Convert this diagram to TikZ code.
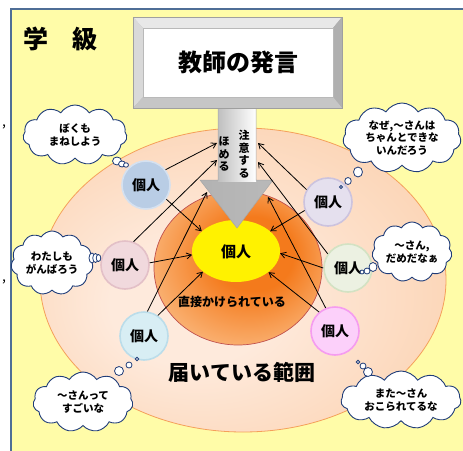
\documentclass[tikz,border=0pt]{standalone}
\usepackage{fontspec}
\newfontfamily\jp{Noto Sans CJK JP}
\usetikzlibrary{shapes.symbols,shapes.geometric,arrows.meta}
\definecolor{bgyellow}{HTML}{FFFCA8}
\definecolor{frameblue}{HTML}{4F6E96}
\definecolor{peach}{HTML}{FBCBA4}
\definecolor{peachlight}{HTML}{FEEADC}
\definecolor{peachedge}{HTML}{F5A05A}
\definecolor{orangedeep}{HTML}{F47A1C}
\definecolor{orangelight}{HTML}{FCC896}
\definecolor{orangeedge}{HTML}{C0504D}
\definecolor{cloudblue}{HTML}{1F3C78}
\definecolor{pAfill}{HTML}{B9CDE5}\definecolor{pAedge}{HTML}{D5E1F0}
\definecolor{pBfill}{HTML}{F1D9DD}\definecolor{pBedge}{HTML}{E3C0C7}
\definecolor{pCfill}{HTML}{D8EEF4}\definecolor{pCedge}{HTML}{BBDDEA}
\definecolor{pDfill}{HTML}{E5E0EE}\definecolor{pDedge}{HTML}{CCC3DE}
\definecolor{pEfill}{HTML}{ECF1E2}\definecolor{pEedge}{HTML}{D3E2C3}
\definecolor{pFfill}{HTML}{FCD0FA}\definecolor{pFedge}{HTML}{F59CF0}
\pgfdeclareradialshading{peachglow}{\pgfpoint{-8bp}{-5bp}}{color(0bp)=(peachlight); color(10bp)=(peachlight); color(40bp)=(peach); color(50bp)=(peach)}
\pgfdeclareradialshading{orangeglow}{\pgfpoint{6bp}{6bp}}{color(0bp)=(orangedeep); color(12bp)=(orangedeep); color(36bp)=(orangelight); color(50bp)=(orangelight)}
\tikzset{
  person/.style={circle, minimum size=48pt, inner sep=0pt, line width=1.6pt,
    font=\jp\bfseries\fontsize{14}{14}\selectfont},
  conn/.style={-{Straight Barb[length=5pt,width=6pt]}, line width=0.8pt, black},
  thought/.style={cloud, cloud puffs=11, cloud puff arc=115, cloud ignores aspect,
    draw=cloudblue, fill=white, line width=0.9pt, inner sep=0pt, align=center,
    font=\jp\bfseries\fontsize{10.5}{12.5}\selectfont},
  bubble/.style={ellipse, draw=cloudblue, fill=white, line width=0.8pt, inner sep=0pt},
  vtext/.style={align=center, inner sep=0pt, font=\jp\bfseries\fontsize{11}{12.5}\selectfont},
}
\begin{document}
\begin{tikzpicture}[x=1pt,y=-1pt]
\useasboundingbox (0,0) rectangle (463,450);
\fill[white] (0,0) rectangle (463,450);
% class frame
\fill[bgyellow] (11,9) rectangle (465,452);
\draw[frameblue, line width=1.5pt] (11,452) -- (11,9) -- (465,9);
\node[font=\jp\fontsize{14}{14}\selectfont, inner sep=0pt] (comma1) at (4,127) {,};
\node[font=\jp\fontsize{14}{14}\selectfont, inner sep=0pt] (comma2) at (4,282) {,};
\node[font=\jp\bfseries\fontsize{25}{25}\selectfont, inner sep=0pt] (gaku) at (36,39) {学};
\node[font=\jp\bfseries\fontsize{25}{25}\selectfont, inner sep=0pt] (kyu) at (85,39) {級};
% reach ellipse
\path[shading=peachglow] (243,280) ellipse [x radius=203, y radius=152];
\draw[peachedge, line width=0.8pt] (243,280) ellipse [x radius=203, y radius=152];
% direct circle
\path[shading=orangeglow] (238,268) ellipse [x radius=84, y radius=77];
\draw[orangeedge, line width=0.7pt] (238,268) ellipse [x radius=84, y radius=77];
% yellow centre
\node[ellipse, fill=yellow, minimum width=88pt, minimum height=62pt, inner sep=0pt] (yel) at (236,251) {};
% teacher arrow
\shade[left color=gray!60, middle color=gray!5, right color=gray!55]
  (200,180) -- (273,180) -- (237,228) -- cycle;
\shade[left color=gray!50, right color=white]
  (218,100) rectangle (256,181);
\draw[gray!70, line width=0.5pt]
  (218,100) -- (256,100) -- (256,180) -- (273,180) -- (237,228) -- (200,180) -- (218,180) -- cycle;
\node[font=\jp\bfseries\fontsize{15}{15}\selectfont, inner sep=0pt] (center) at (236,252) {個人};
\node[vtext] (homeru) at (224,154) {ほ\\め\\る};
\node[vtext] (chui) at (244,154) {注\\意\\す\\る};
% teacher box
\fill[gray!60] (133,17) rectangle (342,108);
\fill[gray!18] (133,17) -- (342,17) -- (333,28) -- (143,28) -- cycle;
\fill[gray!30] (133,17) -- (143,28) -- (143,97) -- (133,108) -- cycle;
\fill[gray!62] (342,17) -- (342,108) -- (333,97) -- (333,28) -- cycle;
\fill[gray!45] (133,108) -- (342,108) -- (333,97) -- (143,97) -- cycle;
\fill[white] (143,28) rectangle (333,97);
\draw[gray!75, line width=0.6pt] (133,17) rectangle (342,108);
\draw[gray!55, line width=0.4pt] (143,28) rectangle (333,97);
\node[font=\jp\bfseries\fontsize{24}{24}\selectfont, inner sep=0pt] (teacher) at (238,62) {教師の発言};
% labels
\node[font=\jp\bfseries\fontsize{12}{12}\selectfont, inner sep=0pt] (direct) at (232,302) {直接かけられている};
\node[font=\jp\bfseries\fontsize{21}{21}\selectfont, inner sep=0pt] (reach) at (242,372) {届いている範囲};
% persons
\node[person, fill=pAfill, draw=pAedge] (A) at (146,185) {個人};
\node[person, fill=pBfill, draw=pBedge] (B) at (125,265) {個人};
\node[person, fill=pCfill, draw=pCedge] (C) at (144,336) {個人};
\node[person, fill=pDfill, draw=pDedge] (D) at (328,202) {個人};
\node[person, fill=pEfill, draw=pEedge] (E) at (348,268) {個人};
\node[person, fill=pFfill, draw=pFedge] (F) at (335,331) {個人};
% targets on the arrow
\coordinate (sL1) at (217,143);
\coordinate (sL2) at (217,160);
\coordinate (sR1) at (258,143);
\coordinate (sR2) at (258,162);
\coordinate (hL) at (207,192);
\coordinate (hR) at (268,197);
% connectors
\draw[conn] (A.38) -- (sL1);
\draw[conn] (A.-35) -- (yel.150);
\draw[conn] (B.70) -- (sL2);
\draw[conn] (B.5) -- (yel.185);
\draw[conn] (C.82) -- (hL);
\draw[conn] (C.56) -- (yel.212);
\draw[conn] (D.150) -- (sR1);
\draw[conn] (D.200) -- (yel.30);
\draw[conn] (E.145) -- (sR2);
\draw[conn] (E.180) -- (yel.-3);
\draw[conn] (F.112) -- (hR);
\draw[conn] (F.130) -- (yel.-33);
% thought clouds
\node[thought, minimum width=104pt, minimum height=60pt] (c1) at (75,135) {ぼくも\\まねしよう};
\node[bubble, minimum width=9pt, minimum height=8pt] (c1a) at (117,161) {};
\node[bubble, minimum width=7pt, minimum height=6pt] (c1b) at (122,164) {};
\node[bubble, minimum width=5pt, minimum height=4.5pt] (c1c) at (126,165) {};
\node[thought, minimum width=118pt, minimum height=70pt] (c2) at (402,138) {なぜ,～さんは\\ちゃんとできな\\いんだろう};
\node[bubble, minimum width=9pt, minimum height=10pt] (c2a) at (358,172) {};
\node[bubble, minimum width=6.5pt, minimum height=7pt] (c2b) at (348,181) {};
\node[bubble, minimum width=3pt, minimum height=3pt] (c2c) at (341,187) {};
\node[thought, minimum width=82pt, minimum height=64pt] (c3) at (52,263) {わたしも\\がんばろう};
\node[bubble, minimum width=6pt, minimum height=10pt] (c3a) at (92,258) {};
\node[bubble, minimum width=5.5pt, minimum height=9pt] (c3b) at (95.5,258) {};
\node[bubble, minimum width=4.5pt, minimum height=7pt] (c3c) at (98.5,258) {};
\node[thought, minimum width=80pt, minimum height=60pt] (c4) at (412,252) {～さん,\\だめだなぁ};
\node[bubble, minimum width=8pt, minimum height=9pt] (c4a) at (373,267) {};
\node[bubble, minimum width=6pt, minimum height=6pt] (c4b) at (367,271) {};
\node[bubble, minimum width=4pt, minimum height=4pt] (c4c) at (362,272) {};
\node[thought, minimum width=100pt, minimum height=60pt] (c5) at (83,402) {～さんって\\すごいな};
\node[bubble, minimum width=9pt, minimum height=9pt] (c5a) at (119,371) {};
\node[bubble, minimum width=6pt, minimum height=6pt] (c5b) at (129,365) {};
\node[bubble, minimum width=3.5pt, minimum height=3.5pt] (c5c) at (137,359) {};
\node[thought, minimum width=120pt, minimum height=58pt] (c6) at (401,400) {また～さん\\おこられてるな};
\node[bubble, minimum width=9pt, minimum height=9pt] (c6a) at (368,372) {};
\node[bubble, minimum width=6pt, minimum height=6pt] (c6b) at (363,366) {};
\node[bubble, minimum width=3.5pt, minimum height=3.5pt] (c6c) at (358,362) {};
\end{tikzpicture}
\end{document}
